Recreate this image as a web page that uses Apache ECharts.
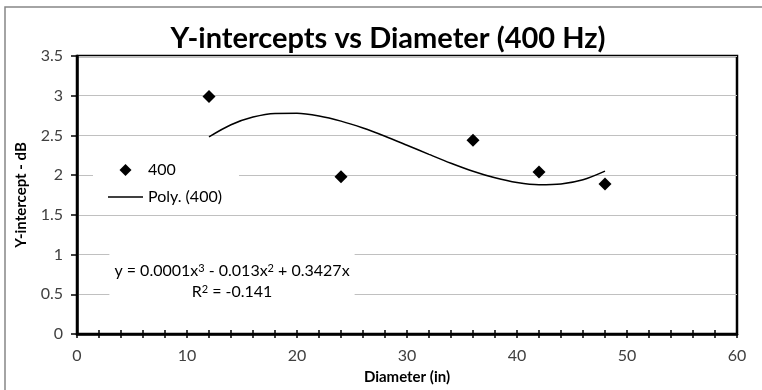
<!DOCTYPE html>
<html>
<head>
<meta charset="utf-8">
<script src="https://cdn.jsdelivr.net/npm/echarts@6/dist/echarts.min.js"></script>
<style>
html,body{margin:0;padding:0;background:#fff;}
#chart{width:762px;height:390px;}
</style>
</head>
<body>
<div id="chart"></div>
<script>
// Measured data points (Diameter in inches, Y-intercept in dB)
const diameters = [12, 24, 36, 42, 48];
const intercepts = [2.99, 1.98, 2.44, 2.04, 1.89];

// Polynomial trendline values
const trendX = [12, 14, 16, 18, 20, 22, 24, 26, 28, 30, 32, 34, 36, 38, 40, 42, 44, 46, 48];
const trendY = [2.483, 2.635, 2.731, 2.777, 2.779, 2.745, 2.680, 2.593, 2.490, 2.377, 2.262, 2.150, 2.049, 1.966, 1.906, 1.878, 1.888, 1.941, 2.050];

const titleText = 'Y-intercepts vs Diameter (400 Hz)';
const xName = 'Diameter (in)';
const yName = 'Y-intercept - dB';
const seriesNames = ['400', 'Poly. (400)'];

const FONT = 'Lato, "Liberation Sans", sans-serif';

const chart = echarts.init(document.getElementById('chart'), null, {renderer: 'canvas'});

const tickStyle = {color: '#000', width: 1.5};

chart.setOption({
  animation: false,
  backgroundColor: '#fff',
  textStyle: {fontFamily: FONT},
  grid: {
    left: 77, right: 25, top: 56, bottom: 46,
    show: true, borderColor: '#000', borderWidth: 2.5, backgroundColor: 'transparent'
  },
  graphic: [
    {
      type: 'rect', silent: true, z: 0,
      shape: {x: 5, y: 7, width: 800, height: 500},
      style: {fill: 'none', stroke: '#868686', lineWidth: 1.5}
    },
    {
      type: 'text', z: 10,
      x: 388, y: 53,
      style: {
        text: titleText, textAlign: 'center', textVerticalAlign: 'bottom',
        font: 'bold 29px ' + FONT, fill: '#000'
      }
    },
    {
      type: 'text', z: 10,
      x: 232, y: 281,
      style: {
        text: '{t|y = 0.0001x}{s|3}{t| - 0.013x}{s|2}{t| + 0.3427x}\n{t|R}{s|2}{t| = -0.141}',
        textAlign: 'center', textVerticalAlign: 'middle', align: 'center',
        fill: '#000',
        backgroundColor: '#fff', padding: [8, 5, 8, 5],
        rich: {
          t: {fontFamily: FONT, fontSize: 16, lineHeight: 21, fill: '#000'},
          s: {fontFamily: FONT, fontSize: 11, lineHeight: 21, verticalAlign: 'top', padding: [3, 0, 0, 0], fill: '#000'}
        }
      }
    }
  ],
  legend: {
    orient: 'vertical',
    left: 93, top: 152,
    backgroundColor: '#fff',
    padding: [10, 17, 8, 15],
    itemGap: 11,
    itemWidth: 35, itemHeight: 12,
    textStyle: {fontFamily: FONT, fontSize: 16, color: '#000'},
    data: [
      {name: seriesNames[0], icon: 'path://M0,6L0,6M35,6L35,6M17.5,0L23.5,6L17.5,12L11.5,6Z', itemStyle: {color: '#000', opacity: 1}},
      {name: seriesNames[1], icon: 'path://M0,0L0,0M0,12L0,12M0,5.3L35,5.3L35,6.7L0,6.7Z', itemStyle: {color: '#000', opacity: 1}}
    ]
  },
  xAxis: [
    {
      type: 'value', min: 0, max: 60, interval: 10,
      axisLine: {show: true, onZero: false, lineStyle: {color: '#000', width: 2.5}},
      axisTick: {show: true, length: 4, lineStyle: tickStyle},
      minorTick: {show: true, splitNumber: 5, length: 4, lineStyle: tickStyle},
      splitLine: {show: false},
      axisLabel: {margin: 14, fontSize: 16, color: '#404040', fontFamily: FONT},
      name: xName, nameLocation: 'middle', nameGap: 36,
      nameTextStyle: {fontWeight: 'bold', fontSize: 15, color: '#000', fontFamily: FONT}
    },
    {
      type: 'value', min: 0, max: 60, interval: 10, position: 'bottom',
      axisLine: {show: false, onZero: false},
      axisTick: {show: true, inside: true, length: 4, lineStyle: tickStyle},
      minorTick: {show: true, splitNumber: 5, length: 4, lineStyle: tickStyle},
      splitLine: {show: false},
      axisLabel: {show: false}
    }
  ],
  yAxis: {
    type: 'value', min: 0, max: 3.5, interval: 0.5,
    axisLine: {show: true, onZero: false, lineStyle: {color: '#000', width: 2.5}},
    axisTick: {show: true, length: 6, lineStyle: tickStyle},
    splitLine: {show: true, lineStyle: {color: '#c0c0c0', width: 1}},
    axisLabel: {margin: 14, fontSize: 16, color: '#404040', fontFamily: FONT},
    name: yName, nameLocation: 'middle', nameGap: 48,
    nameTextStyle: {fontWeight: 'bold', fontSize: 15, color: '#000', fontFamily: FONT}
  },
  series: [
    {
      name: seriesNames[0], type: 'scatter',
      symbol: 'diamond', symbolSize: 13,
      itemStyle: {color: '#000', opacity: 1},
      data: diameters.map((d, i) => [d, intercepts[i]]),
      z: 5
    },
    {
      name: seriesNames[1], type: 'line',
      smooth: 0.3, showSymbol: false, symbol: 'none',
      lineStyle: {color: '#000', width: 1.5},
      itemStyle: {color: '#000'},
      data: trendX.map((d, i) => [d, trendY[i]]),
      z: 4
    }
  ]
});
</script>
</body>
</html>
